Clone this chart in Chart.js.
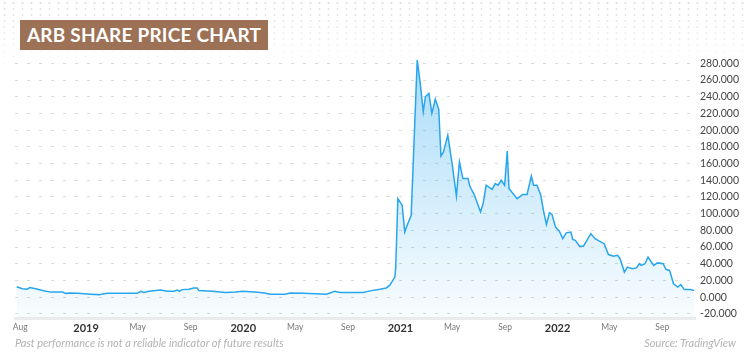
<!DOCTYPE html>
<html>
<head>
<meta charset="utf-8">
<script src="https://cdn.jsdelivr.net/npm/chart.js@4.4.0/dist/chart.umd.min.js"></script>
<style>
  html, body { margin: 0; padding: 0; background: #fff; }
  #wrap { position: relative; width: 750px; height: 359px; overflow: hidden; font-family: 'Lato', sans-serif; }
  #dots {
    position: absolute; left: 0; top: 0; width: 750px; height: 70px;
    background-image: radial-gradient(circle, #dcdcdc 0.9px, transparent 1.2px);
    background-size: 9px 6px;
    -webkit-mask-image: linear-gradient(to bottom, rgba(0,0,0,1), rgba(0,0,0,0));
    mask-image: linear-gradient(to bottom, rgba(0,0,0,1), rgba(0,0,0,0));
  }
  #chart { position: absolute; left: 0; top: 0; }
  #title {
    position: absolute; left: 20px; top: 20px; width: 248px; height: 30px;
    background: #9c7156; color: #fff; font-weight: 700; font-size: 19px;
    line-height: 30px; text-align: center; font-family: 'Lato', sans-serif; letter-spacing: 0.2px;
  }
  .foot { position: absolute; top: 336px; font-size: 11px; font-style: italic; color: #b3b3b3; }
  #note { left: 15px; }
  #src { right: 14px; }
</style>
</head>
<body>
<div id="wrap">
  <div id="dots"></div>
  <canvas id="chart" width="750" height="340"></canvas>
  <div id="title">ARB SHARE PRICE CHART</div>
  <div class="foot" id="note">Past performance is not a reliable indicator of future results</div>
  <div class="foot" id="src">Source: TradingView</div>
</div>
<script>
/* price series */
const priceDates = [
  '2018-07-24','2018-08-06','2018-08-18','2018-08-23','2018-09-06','2018-09-22','2018-10-11','2018-11-07',
  '2018-11-15','2018-11-26','2018-12-12','2019-01-12','2019-01-31','2019-02-19','2019-04-30','2019-05-08',
  '2019-05-15','2019-05-27','2019-06-23','2019-07-09','2019-07-24','2019-08-01','2019-08-06','2019-08-12',
  '2019-08-28','2019-09-08','2019-09-16','2019-09-20','2019-10-21','2019-11-21','2019-12-14','2019-12-30',
  '2020-01-28','2020-02-20','2020-03-03','2020-04-07','2020-04-19','2020-05-20','2020-07-13','2020-08-01',
  '2020-08-13','2020-10-06','2020-10-22','2020-11-14','2020-11-29','2020-12-07','2020-12-19','2020-12-21',
  '2020-12-26','2021-01-05','2021-01-11','2021-01-18','2021-01-26','2021-02-09','2021-02-16','2021-02-23',
  '2021-02-28','2021-03-08','2021-03-15','2021-03-23','2021-03-31','2021-04-05','2021-04-11','2021-04-21',
  '2021-05-01','2021-05-11','2021-05-18','2021-05-26','2021-06-07','2021-06-11','2021-06-22','2021-07-06',
  '2021-07-12','2021-07-19','2021-08-02','2021-08-09','2021-08-16','2021-08-23','2021-08-31','2021-09-06',
  '2021-09-10','2021-09-29','2021-10-12','2021-10-22','2021-11-01','2021-11-06','2021-11-14','2021-11-23',
  '2021-11-29','2021-12-06','2021-12-13','2021-12-19','2021-12-27','2022-01-05','2022-01-13','2022-01-21',
  '2022-02-01','2022-02-05','2022-02-11','2022-02-21','2022-03-02','2022-03-19','2022-03-29','2022-04-08',
  '2022-04-19','2022-04-29','2022-05-11','2022-05-20','2022-05-26','2022-06-05','2022-06-12','2022-06-23',
  '2022-07-03','2022-07-10','2022-07-14','2022-07-23','2022-07-30','2022-08-12','2022-08-21','2022-09-03',
  '2022-09-10','2022-09-18','2022-09-27','2022-10-07','2022-10-14','2022-10-22','2022-11-05','2022-11-14'
];
const priceValues = [
  12.5, 10, 9.5, 11.5, 10, 8, 6, 6,
  4.5, 5, 4.5, 3.5, 3, 4.5, 4.5, 7,
  5.5, 7, 8.5, 7, 7, 8.5, 7, 9,
  9.5, 11, 11, 8, 7, 5.5, 6, 7,
  6, 5, 3.5, 3.5, 5, 4.5, 3.5, 7,
  5.5, 5.5, 7.5, 9.5, 11, 14, 24, 35,
  118, 110, 78, 88, 98, 284, 256, 222,
  240, 244, 220, 237, 225, 169, 174, 194,
  160, 121, 162, 142, 142, 133, 122, 102,
  112, 134, 129, 136, 134, 140, 134, 175,
  130, 118, 123, 123, 145, 134, 134, 122,
  104, 87, 101, 99, 84, 79, 70, 77,
  78, 69, 68, 61, 61, 76, 70, 67,
  64, 51, 49, 50, 46, 30, 36, 34,
  35, 40, 38, 40, 48, 38, 41, 40,
  33, 32, 16, 12, 15, 9, 9, 8
];

const xTickDates  = ['2018-08-01','2019-01-01','2019-05-01','2019-09-01','2020-01-01','2020-05-01',
                     '2020-09-01','2021-01-01','2021-05-01','2021-09-01','2022-01-01','2022-05-01','2022-09-01'];
const xTickLabels = ['Aug','2019','May','Sep','2020','May','Sep','2021','May','Sep','2022','May','Sep'];
const yTickValues = [-20, 0, 20, 40, 60, 80, 100, 120, 140, 160, 180, 200, 220, 240, 260, 280];

const X_MIN = '2018-07-20', X_MAX = '2022-11-16';
const Y_MIN = -25, Y_MAX = 290;

function toYear(s) {
  const d = new Date(s + 'T00:00:00Z');
  const y = d.getUTCFullYear();
  const a = Date.UTC(y, 0, 1), b = Date.UTC(y + 1, 0, 1);
  return y + (d - a) / (b - a);
}

const points = priceDates.map((d, i) => ({ x: toYear(d), y: priceValues[i] }));
const xTicks = xTickDates.map(toYear);

const canvas = document.getElementById('chart');
const ctx = canvas.getContext('2d');

new Chart(ctx, {
  type: 'line',
  data: {
    datasets: [{
      data: points,
      borderColor: '#27a6ef',
      borderWidth: 1.5,
      pointRadius: 0,
      tension: 0,
      fill: 'start',
      backgroundColor: c => {
        const area = c.chart.chartArea;
        if (!area) return 'rgba(39,166,239,0.2)';
        const g = c.chart.ctx.createLinearGradient(0, area.top, 0, area.bottom);
        g.addColorStop(0, 'rgba(39,166,239,0.40)');
        g.addColorStop(1, 'rgba(39,166,239,0.03)');
        return g;
      }
    }]
  },
  options: {
    responsive: false,
    animation: false,
    layout: { padding: { left: 15, top: 55, right: 0, bottom: 0 } },
    plugins: { legend: { display: false }, tooltip: { enabled: false } },
    scales: {
      x: {
        type: 'linear',
        min: toYear(X_MIN), max: toYear(X_MAX),
        afterBuildTicks: ax => { ax.ticks = xTicks.map(v => ({ value: v })); },
        afterFit: ax => { ax.height = 22; },
        grid: { display: false, drawTicks: false },
        border: { display: true, color: '#ececec', width: 3 },
        ticks: {
          autoSkip: false, maxRotation: 0, padding: 4,
          callback: (v, i) => xTickLabels[i],
          color: c => /^\d{4}$/.test(xTickLabels[c.index]) ? '#333' : '#777',
          font: c => /^\d{4}$/.test(xTickLabels[c.index])
            ? { family: 'Lato', size: 11, weight: 'bold' }
            : { family: 'Lato', size: 8.5 }
        }
      },
      y: {
        position: 'right',
        min: Y_MIN, max: Y_MAX,
        afterBuildTicks: ax => { ax.ticks = yTickValues.map(v => ({ value: v })); },
        afterFit: ax => { ax.width = 55; },
        grid: { color: '#dadada', drawTicks: false, lineWidth: 1 },
        border: { display: false, dash: [3, 9] },
        ticks: {
          padding: 5, crossAlign: 'near', color: '#444',
          font: { family: 'Lato', size: 10.5 },
          callback: v => v.toFixed(3)
        }
      }
    }
  }
});
</script>
</body>
</html>
